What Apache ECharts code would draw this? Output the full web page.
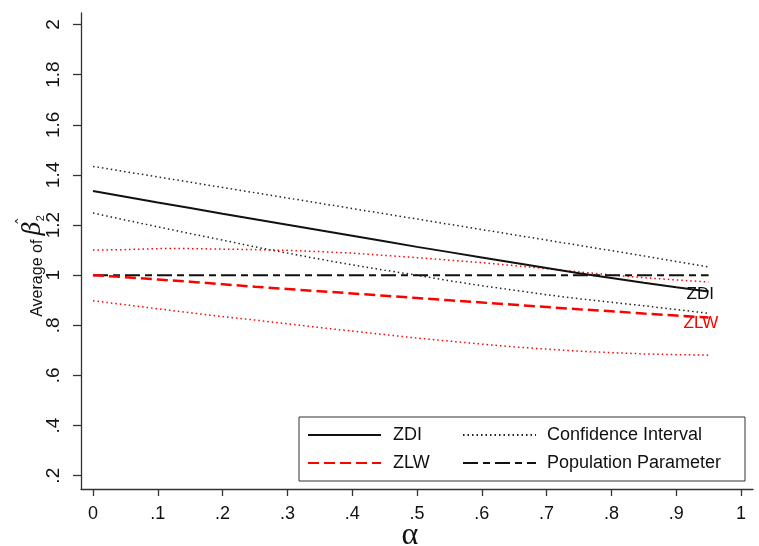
<!DOCTYPE html>
<html>
<head>
<meta charset="utf-8">
<script src="https://cdn.jsdelivr.net/npm/echarts@6/dist/echarts.min.js"></script>
<style>html,body{margin:0;padding:0;background:#fff}#c{width:759px;height:546px}</style>
</head>
<body>
<div id="c"></div>
<script>
const alphas = [0, 0.05, 0.1, 0.15, 0.2, 0.25, 0.3, 0.35, 0.4, 0.45, 0.5, 0.55, 0.6, 0.65, 0.7, 0.75, 0.8, 0.85, 0.9, 0.95];
const zdi = [1.336, 1.313, 1.290, 1.268, 1.245, 1.223, 1.201, 1.179, 1.157, 1.135, 1.113, 1.092, 1.071, 1.050, 1.029, 1.008, 0.989, 0.970, 0.952, 0.935];
const zdiUpper = [1.434, 1.413, 1.392, 1.371, 1.350, 1.329, 1.308, 1.287, 1.266, 1.245, 1.224, 1.203, 1.182, 1.161, 1.140, 1.119, 1.098, 1.077, 1.055, 1.033];
const zdiLower = [1.248, 1.220, 1.193, 1.166, 1.140, 1.113, 1.088, 1.064, 1.041, 1.020, 1.000, 0.978, 0.958, 0.940, 0.922, 0.906, 0.892, 0.878, 0.863, 0.848];
const zlw = [1.000, 0.992, 0.983, 0.974, 0.964, 0.954, 0.945, 0.936, 0.927, 0.918, 0.909, 0.900, 0.891, 0.882, 0.873, 0.864, 0.856, 0.847, 0.839, 0.831];
const zlwUpper = [1.100, 1.102, 1.106, 1.106, 1.104, 1.102, 1.099, 1.094, 1.088, 1.079, 1.070, 1.060, 1.050, 1.038, 1.026, 1.013, 1.001, 0.990, 0.981, 0.973];
const zlwLower = [0.898, 0.882, 0.866, 0.850, 0.835, 0.821, 0.806, 0.791, 0.777, 0.763, 0.749, 0.737, 0.725, 0.714, 0.705, 0.697, 0.691, 0.686, 0.683, 0.681];
const population = [1, 1, 1, 1, 1, 1, 1, 1, 1, 1, 1, 1, 1, 1, 1, 1, 1, 1, 1, 1];
const xTicks = [0, 0.1, 0.2, 0.3, 0.4, 0.5, 0.6, 0.7, 0.8, 0.9, 1];
const yTicks = [0.2, 0.4, 0.6, 0.8, 1, 1.2, 1.4, 1.6, 1.8, 2];

const pair = arr => alphas.map((a, i) => [a, arr[i]]);
const fmt = v => { let s = String(Math.round(v * 100) / 100); return s.startsWith('0.') ? s.slice(1) : s; };
const FONT = 'Liberation Sans, Arial, sans-serif';

const chart = echarts.init(document.getElementById('c'), null, {renderer: 'canvas'});
chart.setOption({
  animation: false,
  backgroundColor: '#fff',
  grid: {left: 81, right: 6, top: 13, bottom: 57, containLabel: false, outerBoundsMode: 'none'},
  xAxis: {
    type: 'value', min: -0.0185, max: 1.0185,
    name: 'α', nameLocation: 'middle', nameGap: 31, nameMoveOverlap: false,
    nameTextStyle: {fontFamily: 'Liberation Serif, Times New Roman, serif', fontSize: 32, color: '#111', padding: [0, 14, 0, 0]},
    axisLine: {show: true, onZero: false, lineStyle: {color: '#333', width: 1.3}},
    axisTick: {show: true, length: 7, customValues: xTicks, lineStyle: {color: '#333', width: 1.3}},
    axisLabel: {customValues: xTicks, formatter: fmt, fontFamily: FONT, fontSize: 18, color: '#111', margin: 16},
    splitLine: {show: false}
  },
  yAxis: {
    type: 'value', min: 0.147, max: 2.046,
    name: '{t|Average of }{b|β}{h|ˆ}{s|2}', nameLocation: 'middle', nameGap: 35, nameRotate: 90, nameMoveOverlap: false,
    nameTextStyle: {
      padding: [0, 30, 0, 0],
      rich: {
        t: {fontFamily: FONT, fontSize: 16, color: '#111', verticalAlign: 'bottom'},
        b: {fontFamily: 'DejaVu Serif, serif', fontStyle: 'italic', fontSize: 24, color: '#111', padding: [6, 0, 0, 0]},
        h: {fontFamily: 'DejaVu Sans, sans-serif', fontSize: 16, color: '#111', width: 0.01, align: 'left', verticalAlign: 'top'},
        s: {fontFamily: FONT, fontSize: 11, color: '#111', verticalAlign: 'bottom'}
      }
    },
    axisLine: {show: true, onZero: false, lineStyle: {color: '#333', width: 1.3}},
    axisTick: {show: true, length: 8, customValues: yTicks, lineStyle: {color: '#333', width: 1.3}},
    axisLabel: {customValues: yTicks, formatter: fmt, rotate: 90, fontFamily: FONT, fontSize: 19, color: '#111', margin: 18},
    splitLine: {show: false}
  },
  graphic: [{
    type: 'rect', z: 1, silent: true,
    shape: {x: 299, y: 417, width: 446, height: 64},
    style: {fill: '#fff', stroke: '#333', lineWidth: 1}
  }],
  legend: [
    {data: ['ZDI', 'ZLW'], orient: 'vertical', left: 307, top: 425, padding: 0, itemGap: 8,
     itemWidth: 73, itemHeight: 14, z: 5, itemStyle: {opacity: 0},
     textStyle: {fontFamily: FONT, fontSize: 18, color: '#111', lineHeight: 20, padding: [0, 0, 0, 7]}},
    {data: ['Confidence Interval', 'Population Parameter'], orient: 'vertical', left: 462, top: 425, padding: 0, itemGap: 8,
     itemWidth: 73, itemHeight: 14, z: 5, itemStyle: {opacity: 0},
     textStyle: {fontFamily: FONT, fontSize: 18, color: '#111', lineHeight: 20, padding: [0, 0, 0, 6]}}
  ],
  series: [
    {name: 'ZDI', type: 'line', data: pair(zdi), symbol: 'none', z: 4,
     lineStyle: {color: '#111', width: 2, type: 'solid'}, itemStyle: {color: '#111'},
     endLabel: {show: true, formatter: 'ZDI', fontFamily: FONT, fontSize: 17, color: '#111', offset: [-30, 3]}},
    {name: 'ZLW', type: 'line', data: pair(zlw), symbol: 'none', z: 4,
     lineStyle: {color: '#ff0000', width: 2.5, type: [11, 5]}, itemStyle: {color: '#ff0000'},
     endLabel: {show: true, formatter: 'ZLW', fontFamily: FONT, fontSize: 17, color: '#ff0000', offset: [-33, 6]}},
    {name: 'Confidence Interval', type: 'line', data: pair(zdiUpper), symbol: 'none', z: 3,
     lineStyle: {color: '#222', width: 1.5, type: [1.5, 3]}, itemStyle: {color: '#222'}},
    {name: 'Confidence Interval', type: 'line', data: pair(zdiLower), symbol: 'none', z: 3,
     lineStyle: {color: '#222', width: 1.5, type: [1.5, 3]}, itemStyle: {color: '#222'}},
    {name: 'Confidence Interval', type: 'line', data: pair(zlwUpper), symbol: 'none', z: 3,
     lineStyle: {color: '#ff0000', width: 1.5, type: [1.5, 3]}, itemStyle: {color: '#ff0000'}},
    {name: 'Confidence Interval', type: 'line', data: pair(zlwLower), symbol: 'none', z: 3,
     lineStyle: {color: '#ff0000', width: 1.5, type: [1.5, 3]}, itemStyle: {color: '#ff0000'}},
    {name: 'Population Parameter', type: 'line', data: pair(population), symbol: 'none', z: 3,
     lineStyle: {color: '#111', width: 2, type: [15, 5, 7, 5]}, itemStyle: {color: '#111'}}
  ]
});
</script>
</body>
</html>
